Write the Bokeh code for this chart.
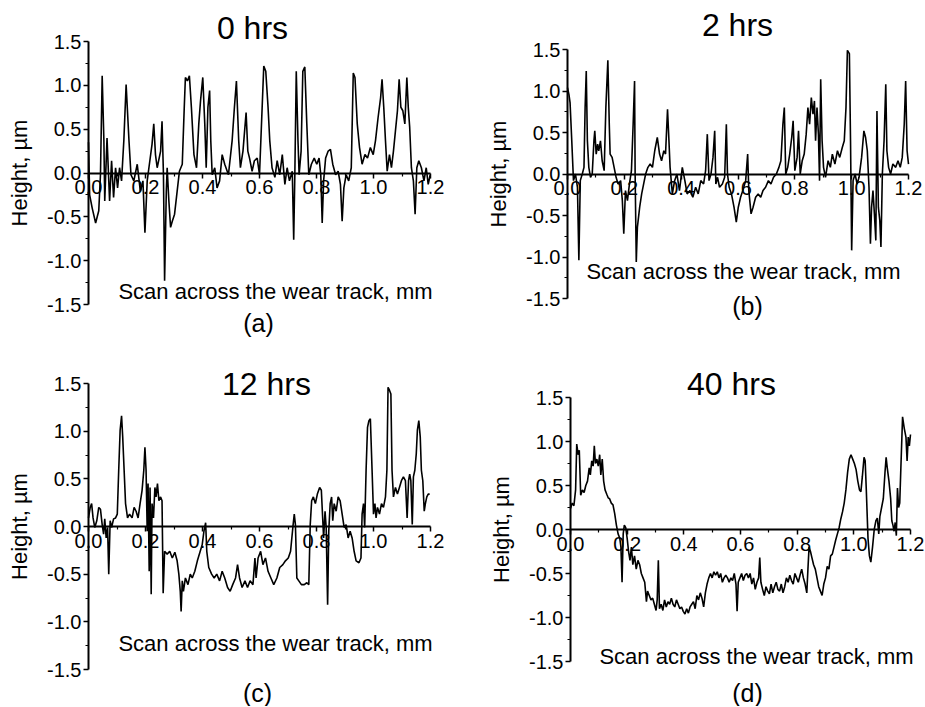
from bokeh.plotting import figure
from bokeh.layouts import column, row
from bokeh.models import FixedTicker, PrintfTickFormatter, Label, Range1d
from bokeh.embed import file_html
from bokeh.resources import INLINE

FONT = "Liberation Sans"

# ---------------- data ----------------
x_ticks = [0.0, 0.2, 0.4, 0.6, 0.8, 1.0, 1.2]
x_minor = [0.1, 0.3, 0.5, 0.7, 0.9, 1.1]
y_ticks = [-1.5, -1.0, -0.5, 0.0, 0.5, 1.0, 1.5]
y_minor = [-1.25, -0.75, -0.25, 0.25, 0.75, 1.25]

titles = ["0 hrs", "2 hrs", "12 hrs", "40 hrs"]
tags = ["(a)", "(b)", "(c)", "(d)"]
x_label = "Scan across the wear track, mm"
y_label = "Height, \u00b5m"

# (scan position mm, height um)
scan_0h = [
    (0.000, 0.35), (0.004, -0.25), (0.013, -0.40), (0.025, -0.57), (0.036, -0.43), (0.042, -0.02),
    (0.048, 1.11), (0.054, 0.37), (0.057, -0.32), (0.065, 0.40), (0.074, -0.32), (0.081, 0.14),
    (0.088, -0.28), (0.095, 0.06), (0.102, -0.17), (0.109, 0.06), (0.116, -0.09), (0.124, 0.37),
    (0.132, 1.01), (0.142, 0.37), (0.149, -0.02), (0.159, -0.09), (0.171, 0.10), (0.182, -0.21),
    (0.191, -0.09), (0.198, -0.68), (0.206, -0.09), (0.212, 0.06), (0.223, 0.33), (0.229, 0.56),
    (0.235, 0.21), (0.241, 0.06), (0.253, 0.25), (0.258, 0.59), (0.263, -0.02), (0.267, -1.23),
    (0.273, -0.21), (0.276, 0.06), (0.282, -0.32), (0.288, -0.62), (0.294, -0.55), (0.302, -0.47),
    (0.311, -0.21), (0.319, 0.02), (0.329, 0.10), (0.336, 0.75), (0.340, 1.09), (0.347, 1.05),
    (0.354, 1.11), (0.361, 0.75), (0.370, 0.21), (0.379, 0.06), (0.387, 0.56), (0.393, 0.82),
    (0.401, 1.09), (0.408, 0.56), (0.413, 0.06), (0.419, 0.75), (0.425, 0.94), (0.429, 0.37),
    (0.434, -0.02), (0.443, 0.06), (0.451, -0.17), (0.460, -0.09), (0.469, 0.21), (0.478, 0.10),
    (0.491, -0.02), (0.504, 0.37), (0.512, 0.75), (0.519, 1.05), (0.527, 0.37), (0.533, 0.06),
    (0.542, 0.25), (0.553, 0.69), (0.559, 0.25), (0.565, 0.17), (0.574, 0.02), (0.582, 0.14),
    (0.592, 0.17), (0.600, -0.02), (0.607, 0.56), (0.615, 1.22), (0.622, 1.16), (0.630, 0.75),
    (0.636, 0.37), (0.644, 0.06), (0.654, -0.05), (0.662, 0.14), (0.671, -0.02), (0.680, 0.21),
    (0.689, -0.13), (0.697, 0.06), (0.705, -0.09), (0.715, 0.02), (0.720, -0.76), (0.724, -0.02),
    (0.729, 1.16), (0.735, 0.37), (0.739, -0.02), (0.746, 0.25), (0.752, 1.16), (0.759, 1.21),
    (0.766, 0.56), (0.773, -0.02), (0.782, 0.10), (0.792, 0.17), (0.801, 0.10), (0.809, 0.17),
    (0.815, -0.02), (0.820, -0.57), (0.825, -0.09), (0.832, 0.17), (0.841, 0.25), (0.849, 0.27),
    (0.857, 0.10), (0.867, -0.02), (0.876, 0.02), (0.884, -0.13), (0.890, -0.55), (0.896, -0.17),
    (0.904, -0.02), (0.913, -0.09), (0.922, 0.06), (0.929, 1.14), (0.935, 1.09), (0.943, 0.56),
    (0.951, 0.29), (0.960, 0.10), (0.970, 0.21), (0.979, 0.17), (0.989, 0.29), (0.999, 0.21),
    (1.007, 0.37), (1.016, 0.63), (1.025, 0.86), (1.030, 1.07), (1.036, 0.75), (1.042, 0.37),
    (1.048, 0.02), (1.056, 0.21), (1.063, 0.06), (1.070, 0.25), (1.077, 0.48), (1.084, 0.71),
    (1.090, 1.07), (1.096, 0.75), (1.103, 0.71), (1.110, 0.56), (1.117, 1.09), (1.122, 0.75),
    (1.127, 0.52), (1.133, 0.06), (1.140, -0.09), (1.146, -0.47), (1.152, 0.06), (1.159, 0.14),
    (1.168, 0.06), (1.177, -0.09), (1.185, 0.06), (1.192, -0.13), (1.199, -0.02),
]

scan_2h = [
    (0.000, 1.04), (0.005, 0.96), (0.009, 0.86), (0.015, 0.40), (0.021, -0.08), (0.028, 0.00),
    (0.035, -0.16), (0.040, -1.04), (0.045, -0.08), (0.052, 0.00), (0.058, 0.08), (0.062, 0.80),
    (0.066, 1.24), (0.070, 0.40), (0.075, 0.08), (0.081, -0.04), (0.087, 0.00), (0.093, 0.40),
    (0.096, 0.52), (0.101, 0.24), (0.106, 0.36), (0.110, 0.28), (0.116, 0.40), (0.122, 0.16),
    (0.129, 0.04), (0.135, 0.80), (0.142, 1.37), (0.147, 0.60), (0.150, 0.24), (0.157, 0.20),
    (0.164, 0.08), (0.171, -0.04), (0.178, -0.12), (0.187, -0.08), (0.193, -0.32), (0.198, -0.72),
    (0.204, -0.20), (0.211, -0.32), (0.218, -0.12), (0.225, 0.04), (0.231, 0.60), (0.236, 1.12),
    (0.238, 0.00), (0.242, -1.06), (0.246, -0.64), (0.254, -0.40), (0.261, -0.24), (0.268, -0.12),
    (0.275, 0.00), (0.283, 0.08), (0.291, 0.12), (0.299, 0.08), (0.307, 0.28), (0.316, 0.44),
    (0.324, 0.24), (0.331, 0.16), (0.339, 0.28), (0.345, 0.24), (0.352, 0.78), (0.357, 0.40),
    (0.361, 0.08), (0.369, -0.24), (0.377, -0.08), (0.385, 0.00), (0.394, -0.20), (0.404, 0.08),
    (0.413, -0.08), (0.421, -0.24), (0.431, -0.20), (0.441, -0.28), (0.451, -0.16), (0.460, -0.24),
    (0.469, -0.08), (0.479, -0.12), (0.486, 0.04), (0.492, 0.48), (0.498, -0.08), (0.505, 0.00),
    (0.512, 0.20), (0.518, 0.52), (0.522, -0.12), (0.528, -0.04), (0.535, -0.16), (0.545, -0.12),
    (0.553, -0.04), (0.559, 0.60), (0.563, 0.00), (0.569, -0.16), (0.577, -0.24), (0.586, -0.40),
    (0.594, -0.58), (0.601, -0.40), (0.609, -0.28), (0.617, -0.20), (0.627, -0.08), (0.634, 0.24),
    (0.638, -0.20), (0.646, -0.48), (0.653, -0.40), (0.662, -0.28), (0.671, -0.24), (0.680, -0.28),
    (0.688, -0.20), (0.697, -0.16), (0.707, -0.08), (0.716, -0.12), (0.725, -0.04), (0.735, 0.00),
    (0.744, 0.08), (0.751, 0.16), (0.758, 0.60), (0.763, 0.80), (0.768, 0.00), (0.775, 0.08),
    (0.782, 0.24), (0.789, 0.44), (0.794, 0.64), (0.800, 0.04), (0.808, 0.20), (0.813, 0.52),
    (0.819, 0.00), (0.826, 0.16), (0.833, 0.24), (0.840, 0.48), (0.846, 0.80), (0.852, 0.60),
    (0.858, 0.92), (0.864, 0.72), (0.869, 0.88), (0.873, 0.40), (0.878, 0.80), (0.883, 0.48),
    (0.887, -0.08), (0.891, 1.14), (0.896, 0.40), (0.901, 0.08), (0.908, -0.04), (0.917, 0.16),
    (0.925, 0.08), (0.932, 0.24), (0.941, 0.12), (0.950, 0.28), (0.958, 0.20), (0.967, 0.32),
    (0.974, 0.40), (0.980, 0.80), (0.985, 1.49), (0.992, 1.45), (0.996, 0.40), (1.000, -0.92),
    (1.005, -0.08), (1.012, 0.00), (1.019, -0.12), (1.026, -0.04), (1.035, 0.20), (1.043, 0.52),
    (1.049, 0.44), (1.055, 0.28), (1.061, -0.16), (1.066, -0.84), (1.070, -0.40), (1.075, -0.20),
    (1.080, -0.48), (1.085, -0.80), (1.089, 0.76), (1.094, -0.40), (1.099, -0.56), (1.103, -0.88),
    (1.108, 0.00), (1.114, 0.40), (1.120, 1.08), (1.124, 0.28), (1.130, 0.08), (1.137, 0.00),
    (1.145, 0.12), (1.155, 0.08), (1.163, 0.16), (1.171, 0.08), (1.178, 0.20), (1.185, 0.60),
    (1.190, 1.12), (1.195, 0.28), (1.200, 0.12),
]

scan_12h = [
    (0.000, 0.09), (0.006, 0.20), (0.011, 0.24), (0.016, 0.09), (0.022, -0.01), (0.029, 0.06),
    (0.036, 0.20), (0.042, 0.18), (0.048, 0.02), (0.053, -0.08), (0.057, 0.08), (0.062, -0.12),
    (0.067, -0.01), (0.071, -0.50), (0.076, 0.06), (0.081, -0.01), (0.088, 0.08), (0.095, 0.09),
    (0.101, 0.13), (0.106, 0.59), (0.111, 1.01), (0.116, 1.16), (0.120, 0.94), (0.125, 0.59),
    (0.130, 0.24), (0.137, 0.09), (0.144, 0.13), (0.153, 0.09), (0.160, 0.20), (0.167, 0.16),
    (0.174, 0.09), (0.181, 0.24), (0.188, 0.38), (0.194, 0.59), (0.198, 0.83), (0.202, 0.59),
    (0.206, -0.05), (0.209, 0.45), (0.213, -0.47), (0.216, 0.41), (0.220, -0.71), (0.223, 0.24),
    (0.228, 0.09), (0.233, 0.41), (0.237, 0.31), (0.242, 0.45), (0.247, 0.27), (0.253, 0.31),
    (0.258, 0.27), (0.262, -0.70), (0.267, -0.26), (0.276, -0.29), (0.285, -0.26), (0.294, -0.33),
    (0.303, -0.27), (0.311, -0.36), (0.317, -0.50), (0.322, -0.68), (0.325, -0.89), (0.329, -0.57),
    (0.333, -0.68), (0.340, -0.54), (0.349, -0.61), (0.357, -0.50), (0.364, -0.54), (0.373, -0.47),
    (0.382, -0.36), (0.392, -0.26), (0.399, -0.19), (0.405, -0.05), (0.411, 0.04), (0.415, -0.26),
    (0.422, -0.43), (0.432, -0.50), (0.441, -0.54), (0.450, -0.50), (0.460, -0.57), (0.469, -0.47),
    (0.478, -0.54), (0.488, -0.64), (0.497, -0.68), (0.506, -0.61), (0.516, -0.54), (0.523, -0.40),
    (0.530, -0.54), (0.539, -0.64), (0.549, -0.57), (0.558, -0.64), (0.567, -0.57), (0.577, -0.61),
    (0.584, -0.33), (0.588, -0.54), (0.595, -0.33), (0.604, -0.26), (0.612, -0.40), (0.621, -0.33),
    (0.630, -0.47), (0.640, -0.54), (0.650, -0.61), (0.661, -0.54), (0.671, -0.43), (0.682, -0.40),
    (0.691, -0.36), (0.701, -0.33), (0.709, -0.26), (0.717, -0.01), (0.722, 0.13), (0.726, 0.02),
    (0.731, -0.54), (0.738, -0.57), (0.747, -0.61), (0.757, -0.61), (0.766, -0.59), (0.773, -0.61),
    (0.778, 0.02), (0.783, 0.27), (0.789, 0.31), (0.796, 0.24), (0.803, 0.34), (0.811, 0.41),
    (0.817, 0.38), (0.825, -0.12), (0.830, 0.16), (0.834, -0.01), (0.839, -0.82), (0.843, -0.05),
    (0.848, 0.24), (0.853, 0.31), (0.857, 0.06), (0.862, 0.24), (0.869, 0.16), (0.876, 0.31),
    (0.883, 0.27), (0.890, 0.13), (0.897, -0.01), (0.904, 0.02), (0.911, -0.12), (0.918, -0.05),
    (0.925, -0.12), (0.932, -0.26), (0.939, -0.36), (0.949, -0.38), (0.956, -0.33), (0.960, 0.13),
    (0.965, 0.24), (0.969, -0.01), (0.974, 0.59), (0.979, 1.04), (0.984, 1.11), (0.989, 1.13),
    (0.995, 0.59), (1.000, 0.13), (1.005, 0.24), (1.009, 0.09), (1.014, 0.20), (1.021, 0.13),
    (1.028, 0.24), (1.035, 0.20), (1.042, 0.31), (1.047, 0.59), (1.051, 1.46), (1.056, 1.43),
    (1.061, 1.39), (1.065, 0.59), (1.070, 0.31), (1.077, 0.41), (1.084, 0.34), (1.091, 0.41),
    (1.098, 0.48), (1.105, 0.52), (1.112, 0.48), (1.118, 0.09), (1.123, 0.48), (1.127, 0.55),
    (1.131, 0.48), (1.136, 0.02), (1.140, 0.52), (1.145, 0.59), (1.150, 0.76), (1.154, 1.01),
    (1.159, 1.11), (1.164, 0.94), (1.168, 0.59), (1.173, 0.48), (1.178, 0.16), (1.182, 0.24),
    (1.187, 0.31), (1.192, 0.34), (1.197, 0.34),
]

scan_40h = [
    (0.000, 0.24), (0.006, 0.30), (0.012, 0.27), (0.018, 0.45), (0.022, 0.97), (0.027, 0.85),
    (0.031, 0.90), (0.036, 0.39), (0.042, 0.45), (0.048, 0.42), (0.054, 0.50), (0.060, 0.55),
    (0.066, 0.70), (0.070, 0.62), (0.075, 0.78), (0.080, 0.72), (0.084, 0.95), (0.088, 0.75),
    (0.093, 0.80), (0.098, 0.72), (0.103, 0.85), (0.107, 0.62), (0.112, 0.80), (0.117, 0.55),
    (0.122, 0.45), (0.128, 0.40), (0.133, 0.36), (0.138, 0.35), (0.144, 0.30), (0.150, 0.28),
    (0.156, 0.18), (0.162, 0.05), (0.168, -0.05), (0.174, -0.10), (0.178, -0.20), (0.182, -0.60),
    (0.186, -0.05), (0.190, 0.05), (0.195, 0.02), (0.200, -0.10), (0.205, -0.25), (0.210, -0.35),
    (0.215, -0.20), (0.220, -0.40), (0.226, -0.30), (0.232, -0.45), (0.238, -0.35), (0.244, -0.40),
    (0.250, -0.50), (0.256, -0.55), (0.262, -0.60), (0.268, -0.82), (0.272, -0.70), (0.278, -0.75),
    (0.284, -0.80), (0.290, -0.78), (0.296, -0.85), (0.302, -0.92), (0.306, -0.80), (0.310, -0.35),
    (0.314, -0.90), (0.320, -0.85), (0.326, -0.92), (0.332, -0.80), (0.338, -0.88), (0.344, -0.82),
    (0.350, -0.85), (0.356, -0.78), (0.362, -0.85), (0.368, -0.88), (0.374, -0.80), (0.380, -0.85),
    (0.386, -0.90), (0.392, -0.88), (0.398, -0.93), (0.404, -0.96), (0.410, -0.90), (0.416, -0.95),
    (0.422, -0.88), (0.428, -0.85), (0.434, -0.82), (0.440, -0.90), (0.446, -0.75), (0.452, -0.80),
    (0.458, -0.72), (0.464, -0.78), (0.470, -0.88), (0.476, -0.72), (0.482, -0.62), (0.488, -0.55),
    (0.494, -0.50), (0.500, -0.55), (0.506, -0.48), (0.512, -0.52), (0.518, -0.48), (0.524, -0.55),
    (0.530, -0.50), (0.536, -0.60), (0.542, -0.55), (0.548, -0.52), (0.554, -0.55), (0.560, -0.60),
    (0.566, -0.55), (0.572, -0.58), (0.578, -0.50), (0.584, -0.62), (0.588, -0.93), (0.592, -0.60),
    (0.598, -0.55), (0.604, -0.50), (0.610, -0.58), (0.616, -0.52), (0.622, -0.50), (0.628, -0.55),
    (0.634, -0.50), (0.640, -0.62), (0.646, -0.55), (0.652, -0.68), (0.658, -0.60), (0.664, -0.55),
    (0.668, -0.32), (0.672, -0.60), (0.678, -0.68), (0.684, -0.75), (0.690, -0.65), (0.696, -0.70),
    (0.702, -0.73), (0.708, -0.62), (0.714, -0.72), (0.720, -0.65), (0.726, -0.60), (0.732, -0.68),
    (0.738, -0.70), (0.744, -0.62), (0.750, -0.72), (0.756, -0.65), (0.762, -0.55), (0.768, -0.60),
    (0.774, -0.52), (0.780, -0.58), (0.786, -0.62), (0.792, -0.50), (0.798, -0.55), (0.804, -0.60),
    (0.810, -0.52), (0.816, -0.45), (0.822, -0.55), (0.828, -0.62), (0.834, -0.72), (0.838, -0.45),
    (0.842, -0.20), (0.847, -0.25), (0.852, -0.32), (0.858, -0.40), (0.864, -0.45), (0.870, -0.55),
    (0.876, -0.65), (0.882, -0.70), (0.888, -0.75), (0.894, -0.62), (0.900, -0.55), (0.906, -0.42),
    (0.912, -0.45), (0.918, -0.30), (0.924, -0.28), (0.930, -0.20), (0.936, -0.12), (0.942, -0.05),
    (0.948, 0.02), (0.954, 0.12), (0.960, 0.20), (0.966, 0.30), (0.972, 0.45), (0.978, 0.65),
    (0.984, 0.80), (0.990, 0.85), (0.996, 0.80), (1.002, 0.75), (1.008, 0.68), (1.014, 0.55),
    (1.020, 0.45), (1.025, 0.43), (1.030, 0.60), (1.036, 0.82), (1.040, 0.78), (1.044, 0.45),
    (1.050, -0.10), (1.055, -0.30), (1.060, -0.37), (1.066, -0.20), (1.072, 0.00), (1.078, 0.10),
    (1.083, 0.13), (1.088, -0.05), (1.092, 0.15), (1.098, 0.25), (1.104, 0.35), (1.110, 0.65),
    (1.114, 0.82), (1.118, 0.70), (1.124, 0.55), (1.130, 0.35), (1.134, 0.10), (1.138, 0.05),
    (1.142, -0.02), (1.146, 0.08), (1.150, -0.07), (1.154, 0.47), (1.158, 0.25), (1.162, 0.30),
    (1.166, 0.70), (1.172, 1.28), (1.178, 1.15), (1.184, 1.05), (1.188, 0.78), (1.192, 1.05),
    (1.196, 0.95), (1.200, 1.08),
]

scans = [scan_0h, scan_2h, scan_12h, scan_40h]

# ---------------- layout (page pixel geometry) ----------------
geom = [
    dict(ox=0, oy=0, w=478, h=338, x0=88, x1=430, yt=41, yb=304,
         tpos=(252, 27), lpos=(275, 291), gpos=(258, 322)),
    dict(ox=478, oy=0, w=447, h=338, x0=567, x1=908, yt=49, yb=298,
         tpos=(737, 24), lpos=(743, 271), gpos=(747, 305)),
    dict(ox=0, oy=338, w=478, h=368, x0=88, x1=430, yt=383, yb=669,
         tpos=(266, 383), lpos=(275, 643), gpos=(257, 692)),
    dict(ox=478, oy=338, w=447, h=368, x0=570, x1=910, yt=397, yb=661,
         tpos=(731, 383), lpos=(756, 656), gpos=(747, 692)),
]


def make_panel(scan, title, tag, g):
    sx = (g["x1"] - g["x0"]) / 1.2
    sy = (g["yb"] - g["yt"]) / 3.0
    xs = -(g["x0"] - g["ox"]) / sx
    xe = xs + g["w"] / sx
    ye = 1.5 + (g["yt"] - g["oy"]) / sy
    ys = ye - g["h"] / sy
    ymid = (g["yt"] + g["yb"]) / 2.0

    def dx(px):
        return (px - g["x0"]) / sx

    def dy(py):
        return (ymid - py) / sy

    p = figure(width=g["w"], height=g["h"], x_range=Range1d(xs, xe), y_range=Range1d(ys, ye),
               output_backend="svg", toolbar_location=None, tools="", min_border=0)
    p.outline_line_color = None
    p.background_fill_color = "white"
    p.border_fill_color = "white"
    p.xgrid.visible = False
    p.ygrid.visible = False

    xv = [pt[0] for pt in scan]
    yv = [pt[1] for pt in scan]
    p.line(xv, yv, line_color="black", line_width=1.6)

    xa = p.xaxis[0]
    ya = p.yaxis[0]
    xa.fixed_location = 0
    ya.fixed_location = 0
    xa.bounds = (0, 1.2)
    ya.bounds = (-1.5, 1.5)
    xa.ticker = FixedTicker(ticks=x_ticks, minor_ticks=x_minor)
    ya.ticker = FixedTicker(ticks=y_ticks, minor_ticks=y_minor)
    xa.formatter = PrintfTickFormatter(format="%.1f")
    ya.formatter = PrintfTickFormatter(format="%.1f")
    for ax in (xa, ya):
        ax.axis_line_color = "black"
        ax.axis_line_width = 2
        ax.major_tick_line_color = "black"
        ax.major_tick_line_width = 1.5
        ax.minor_tick_line_color = "black"
        ax.minor_tick_line_width = 1.2
        ax.major_tick_in = 0
        ax.minor_tick_in = 0
        ax.major_tick_out = 5
        ax.minor_tick_out = 3
        ax.major_label_text_font = FONT
        ax.major_label_text_font_size = "20px"
        ax.major_label_text_color = "black"
    xa.major_label_standoff = 2
    ya.major_label_standoff = 2
    ya.axis_label = y_label
    ya.axis_label_text_font = FONT
    ya.axis_label_text_font_size = "22px"
    ya.axis_label_text_font_style = "normal"
    ya.axis_label_text_color = "black"
    ya.axis_label_standoff = 12

    p.add_layout(Label(x=dx(g["tpos"][0]), y=dy(g["tpos"][1]), text=title,
                       text_align="center", text_baseline="middle",
                       text_font=FONT, text_font_size="32px", text_color="black"))
    p.add_layout(Label(x=dx(g["lpos"][0]), y=dy(g["lpos"][1]), text=x_label,
                       text_align="center", text_baseline="middle",
                       text_font=FONT, text_font_size="22px", text_color="black"))
    p.add_layout(Label(x=dx(g["gpos"][0]), y=dy(g["gpos"][1]), text=tag,
                       text_align="center", text_baseline="middle",
                       text_font=FONT, text_font_size="25px", text_color="black"))
    return p


figs = [make_panel(s, t, tg, g) for s, t, tg, g in zip(scans, titles, tags, geom)]
layout = column(row(figs[0], figs[1]), row(figs[2], figs[3]))

open("out.html", "w").write(file_html(layout, INLINE))
